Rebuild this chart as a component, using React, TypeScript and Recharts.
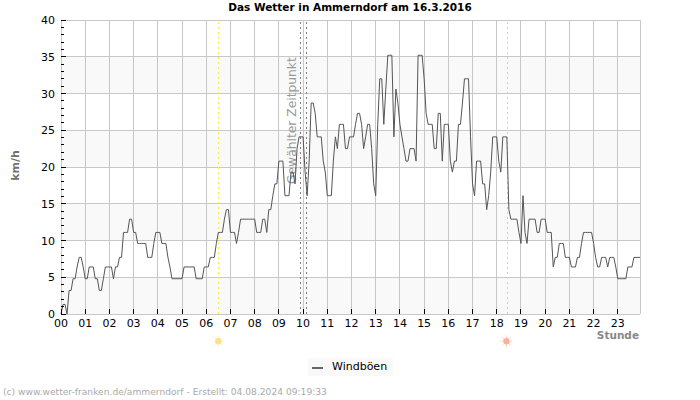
import {
  CartesianGrid,
  Legend,
  Line,
  LineChart,
  ReferenceDot,
  ReferenceLine,
  XAxis,
  YAxis,
} from "recharts";

const hourLabels = [
  "00", "01", "02", "03", "04", "05", "06", "07", "08", "09", "10", "11",
  "12", "13", "14", "15", "16", "17", "18", "19", "20", "21", "22", "23",
];

// Windböen in km/h, one row per hour, 5 minute samples
const gusts = [
  0, 1.3, 1.3, 0, 3.2, 3.2, 4.8, 4.8, 6.4, 7.7, 7.7, 6.4,
  4.8, 4.8, 6.4, 6.4, 6.4, 4.8, 4.8, 3.2, 3.2, 4.8, 6.4, 6.4,
  6.4, 6.4, 4.8, 6.4, 6.4, 7.7, 7.7, 11.1, 11.1, 11.1, 12.9, 12.9,
  11.1, 11.1, 9.6, 9.6, 9.6, 9.6, 9.6, 7.7, 7.7, 7.7, 9.6, 11.1,
  11.1, 11.1, 9.6, 9.6, 9.6, 7.7, 6.4, 4.8, 4.8, 4.8, 4.8, 4.8,
  4.8, 6.4, 6.4, 6.4, 6.4, 6.4, 6.4, 4.8, 4.8, 4.8, 4.8, 6.4,
  6.4, 6.4, 7.7, 7.7, 7.7, 9.6, 11.1, 11.1, 11.1, 12.9, 14.2, 14.2,
  11.1, 11.1, 11.1, 9.6, 11.1, 12.9, 12.9, 12.9, 12.9, 12.9, 12.9, 12.9,
  12.9, 11.1, 11.1, 11.1, 12.9, 12.9, 11.1, 14.2, 14.2, 16.1, 17.7, 17.7,
  20.8, 20.8, 20.8, 16.1, 16.1, 16.1, 19.3, 19.3, 17.7, 22.5, 24.1, 24.1,
  24.1, 19.3, 16.1, 20.8, 28.7, 28.7, 27.3, 24.1, 24.1, 24.1, 20.8, 19.3,
  16.1, 16.1, 16.1, 20.8, 24.1, 22.5, 25.8, 25.8, 25.8, 22.5, 22.5, 24.1,
  24.1, 24.1, 25.8, 27.3, 27.3, 25.8, 22.5, 24.1, 25.8, 25.8, 22.5, 17.7,
  16.1, 25.8, 32, 32, 25.8, 30.6, 35.2, 35.2, 35.2, 24.1, 30.6, 28.7,
  25.8, 24.1, 22.5, 20.8, 20.8, 22.5, 22.5, 22.5, 20.8, 35.2, 35.2, 35.2,
  32, 27.3, 25.8, 25.8, 25.8, 22.5, 22.5, 27.3, 27.3, 20.8, 25.8, 25.8,
  25.8, 20.8, 19.3, 20.8, 20.8, 25.8, 25.8, 28.7, 32, 32, 32, 24.1,
  17.7, 16.1, 20.8, 20.8, 20.8, 17.7, 17.7, 14.2, 16.1, 19.3, 24.1, 24.1,
  24.1, 20.8, 19.3, 24.1, 24.1, 24.1, 14.2, 12.9, 12.9, 12.9, 12.9, 11.1,
  9.6, 16.1, 11.1, 9.6, 12.9, 12.9, 12.9, 12.9, 11.1, 11.1, 12.9, 12.9,
  12.9, 11.1, 11.1, 11.1, 6.4, 7.7, 7.7, 9.6, 9.6, 9.6, 7.7, 7.7,
  7.7, 6.4, 6.4, 6.4, 7.7, 7.7, 9.6, 11.1, 11.1, 11.1, 11.1, 11.1,
  9.6, 7.7, 6.4, 6.4, 7.7, 7.7, 7.7, 6.4, 7.7, 7.7, 7.7, 6.4,
  4.8, 4.8, 4.8, 4.8, 4.8, 6.4, 6.4, 6.4, 7.7, 7.7, 7.7, 7.7,
];

const yTicks = Array.from({ length: 41 }, (_, i) => i);
const yGrid = [0, 5, 10, 15, 20, 25, 30, 35, 40];
const xTicks = hourLabels.map((_, i) => i);
const lastHour = (gusts.length - 1) / 12;

const data = gusts.map((v, i) => ({ hour: i / 12, gust: v }));

const FONT = "'DejaVu Sans', sans-serif";

function YTick({ y, payload }: any) {
  const major = payload.value % 5 === 0;
  return (
    <g>
      <line x1={61} x2={61 + (major ? 5 : 3)} y1={y} y2={y} stroke="#000" shapeRendering="crispEdges" />
      {major && (
        <text x={55} y={y + 4} textAnchor="end" fontSize={11} fill="#000" fontFamily={FONT}>
          {payload.value}
        </text>
      )}
    </g>
  );
}

function XTick({ x, payload }: any) {
  return (
    <g>
      <line x1={x} x2={x} y1={314} y2={309} stroke="#000" shapeRendering="crispEdges" />
      <text x={x} y={327} textAnchor="middle" fontSize={11} fill="#000" fontFamily={FONT}>
        {hourLabels[payload.value]}
      </text>
    </g>
  );
}

function Sun({ cx, cy, color, ray }: any) {
  const angles = [0, 45, 90, 135, 180, 225, 270, 315];
  return (
    <g>
      {angles.map((a) => (
        <line
          key={a}
          x1={cx + 3 * Math.cos((a * Math.PI) / 180)}
          y1={cy + 3 * Math.sin((a * Math.PI) / 180)}
          x2={cx + 6 * Math.cos((a * Math.PI) / 180)}
          y2={cy + 6 * Math.sin((a * Math.PI) / 180)}
          stroke={ray}
        />
      ))}
      <circle cx={cx} cy={cy} r={3.2} fill={color} />
    </g>
  );
}

function WindLegend() {
  return (
    <div
      style={{
        width: 85,
        height: 18,
        background: "#f9f9f9",
        fontFamily: FONT,
        fontSize: 11,
        lineHeight: "17px",
        color: "#000",
        position: "relative",
      }}
    >
      <span
        style={{ position: "absolute", left: 4, top: 9, width: 11, height: 2, background: "#666" }}
      />
      <span style={{ position: "absolute", left: 24, top: 0 }}>Windböen</span>
    </div>
  );
}

export default function App() {
  return (
    <div style={{ position: "absolute", left: 0, top: 0, width: 700, height: 400, fontFamily: FONT }}>
      <LineChart
        width={700}
        height={400}
        data={data}
        margin={{ top: 20, right: 60, bottom: 67, left: 60 }}
      >
        <CartesianGrid
          stroke="#c8c8c8"
          shapeRendering="crispEdges"
          horizontalValues={yGrid}
          verticalValues={[...xTicks, lastHour]}
          horizontalFill={["#ffffff", "#f9f9f9"]}
          fillOpacity={1}
        />
        <XAxis
          dataKey="hour"
          type="number"
          domain={[0, lastHour]}
          ticks={xTicks}
          interval={0}
          height={1}
          axisLine={false}
          tickLine={false}
          tick={(p: any) => <XTick {...p} />}
        />
        <YAxis
          type="number"
          domain={[0, 40]}
          ticks={yTicks}
          interval={0}
          width={1}
          axisLine={false}
          tickLine={false}
          tick={(p: any) => <YTick {...p} />}
        />
        <ReferenceLine x={6.5} stroke="#f8f040" strokeDasharray="2 3" shapeRendering="crispEdges" />
        <ReferenceLine x={9.9} stroke="#808080" strokeDasharray="2 3" shapeRendering="crispEdges" />
        <ReferenceLine
          x={10.15}
          stroke="#808080"
          strokeDasharray="2 3"
          shapeRendering="crispEdges"
          label={({ viewBox }: any) => (
            <text
              transform={`translate(${viewBox.x - 10.5} ${viewBox.y + 164}) rotate(-90)`}
              fontSize={12.3}
              fill="#999"
              fontFamily={FONT}
            >
              Gewählter Zeitpunkt
            </text>
          )}
        />
        <ReferenceLine x={18.43} stroke="#f3c98a" strokeDasharray="2 3" shapeRendering="crispEdges" />
        <Line
          dataKey="gust"
          name="Windböen"
          type="linear"
          stroke="#555"
          strokeWidth={1}
          dot={false}
          activeDot={false}
          isAnimationActive={false}
        />
        <ReferenceDot
          x={6.5}
          y={-3.7}
          ifOverflow="visible"
          shape={(p: any) => <Sun {...p} color="#fbe08e" ray="#fdf0c8" />}
        />
        <ReferenceDot
          x={18.4}
          y={-3.7}
          ifOverflow="visible"
          shape={(p: any) => <Sun {...p} color="#fdb09a" ray="#fdd5c8" />}
        />
        <Legend
          content={<WindLegend />}
          wrapperStyle={{ position: "absolute", left: 308, top: 358, width: 85, bottom: "auto" }}
        />
      </LineChart>
      <div style={{ position: "absolute", left: 0, top: 1, width: 700, textAlign: "center", fontSize: 10.5, fontWeight: "bold", color: "#000" }}>
        Das Wetter in Ammerndorf am 16.3.2016
      </div>
      <div style={{ position: "absolute", left: -5, top: 159, width: 40, textAlign: "center", fontSize: 11, fontWeight: "bold", color: "#707070", transform: "rotate(-90deg)" }}>
        km/h
      </div>
      <div style={{ position: "absolute", right: 61, top: 329, fontSize: 10.5, fontWeight: "bold", color: "#888" }}>
        Stunde
      </div>
      <div style={{ position: "absolute", left: 3, top: 387, fontSize: 9.15, color: "#aaa", whiteSpace: "nowrap" }}>
        (c) www.wetter-franken.de/ammerndorf - Erstellt: 04.08.2024 09:19:33
      </div>
    </div>
  );
}
